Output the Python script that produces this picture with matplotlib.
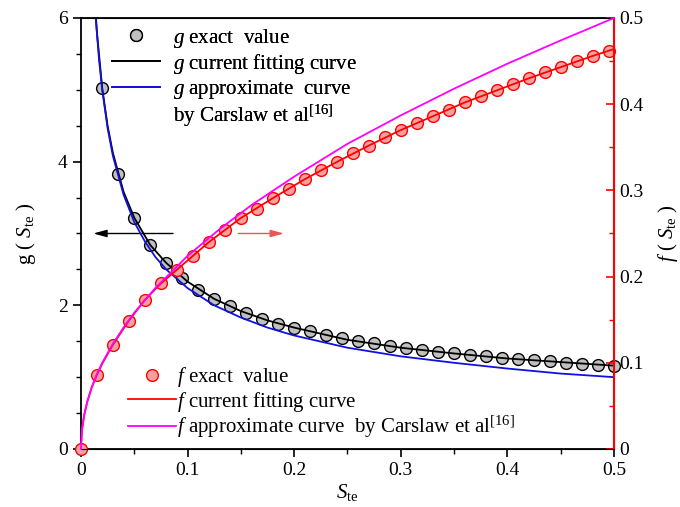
import numpy as np
import matplotlib.pyplot as plt
from matplotlib.lines import Line2D

plt.rcParams['font.family'] = ['Liberation Serif', 'DejaVu Serif']
plt.rcParams['mathtext.fontset'] = 'custom'
plt.rcParams['mathtext.rm'] = 'Liberation Serif'
plt.rcParams['mathtext.it'] = 'Liberation Serif:italic'

# g exact values (left axis)
s_g = [0.02, 0.035, 0.05, 0.065, 0.08, 0.095, 0.11, 0.125, 0.14, 0.155, 0.17,
       0.185, 0.2, 0.215, 0.23, 0.245, 0.26, 0.275, 0.29, 0.305, 0.32, 0.335,
       0.35, 0.365, 0.38, 0.395, 0.41, 0.425, 0.44, 0.455, 0.47, 0.485, 0.5]
g_exact = [5.02, 3.83, 3.22, 2.84, 2.59, 2.38, 2.22, 2.09, 1.99, 1.89, 1.81,
           1.74, 1.69, 1.64, 1.59, 1.54, 1.50, 1.47, 1.43, 1.40, 1.38, 1.35,
           1.33, 1.31, 1.29, 1.27, 1.25, 1.24, 1.22, 1.20, 1.19, 1.17, 1.16]

# g current fitting curve
s_gfit = [0.012, 0.015, 0.02, 0.025, 0.03, 0.04, 0.05, 0.065, 0.08, 0.1, 0.125,
          0.15, 0.175, 0.2, 0.25, 0.3, 0.35, 0.4, 0.45, 0.5]
g_fit = [6.5, 5.8, 5.02, 4.5, 4.12, 3.58, 3.22, 2.84, 2.59, 2.33, 2.09,
         1.92, 1.79, 1.69, 1.52, 1.41, 1.33, 1.26, 1.21, 1.16]

# g approximate curve by Carslaw et al
s_gc = [0.012, 0.014, 0.017, 0.02, 0.025, 0.03, 0.04, 0.05, 0.06, 0.07, 0.08,
        0.1, 0.125, 0.15, 0.175, 0.2, 0.25, 0.3, 0.35, 0.4, 0.45, 0.5]
g_carslaw = [6.45, 5.98, 5.42, 5.0, 4.47, 4.08, 3.54, 3.16, 2.89, 2.67, 2.50,
             2.24, 2.0, 1.83, 1.69, 1.58, 1.41, 1.29, 1.20, 1.12, 1.05, 1.0]

# f exact values (right axis)
s_f = [0.0, 0.015, 0.03, 0.045, 0.06, 0.075, 0.09, 0.105, 0.12, 0.135, 0.15,
       0.165, 0.18, 0.195, 0.21, 0.225, 0.24, 0.255, 0.27, 0.285, 0.3, 0.315,
       0.33, 0.345, 0.36, 0.375, 0.39, 0.405, 0.42, 0.435, 0.45, 0.465, 0.48, 0.495]
f_exact = [0.0, 0.086, 0.121, 0.149, 0.173, 0.192, 0.208, 0.224, 0.240, 0.254, 0.268,
           0.279, 0.291, 0.302, 0.313, 0.324, 0.333, 0.343, 0.352, 0.362, 0.370, 0.378,
           0.386, 0.393, 0.402, 0.409, 0.416, 0.423, 0.430, 0.437, 0.443, 0.450, 0.456, 0.462]

# f current fitting curve
s_ffit = [0.0, 0.001, 0.003, 0.006, 0.01, 0.015, 0.02, 0.03, 0.045, 0.06, 0.075,
          0.09, 0.105, 0.12, 0.15, 0.18, 0.21, 0.24, 0.27, 0.3, 0.33, 0.36, 0.39,
          0.42, 0.45, 0.48, 0.5]
f_fit = [0.0, 0.022, 0.039, 0.055, 0.071, 0.086, 0.099, 0.121, 0.149, 0.173, 0.192,
         0.208, 0.224, 0.240, 0.268, 0.291, 0.313, 0.333, 0.352, 0.370, 0.386, 0.402,
         0.416, 0.430, 0.443, 0.456, 0.464]

# f approximate curve by Carslaw et al
s_fc = [0.0, 0.001, 0.003, 0.006, 0.01, 0.015, 0.02, 0.03, 0.04, 0.05, 0.07, 0.1,
        0.13, 0.16, 0.2, 0.25, 0.3, 0.35, 0.4, 0.45, 0.5]
f_carslaw = [0.0, 0.022, 0.039, 0.055, 0.071, 0.087, 0.1, 0.122, 0.141, 0.158, 0.187,
             0.224, 0.255, 0.283, 0.316, 0.354, 0.387, 0.418, 0.447, 0.474, 0.5]

fig = plt.figure(figsize=(6.8, 5.07), dpi=100)
ax = fig.add_axes([0.119, 0.1144, 0.784, 0.8501])
ax2 = ax.twinx()

ax.plot(s_g, g_exact, 'o', ms=8.5, mfc='#c0c0c0', mec='black', mew=1.0, zorder=2, clip_on=False)
ax.plot(s_gfit, g_fit, color='black', lw=1.3, zorder=3)
ax.plot(s_gc, g_carslaw, color='#1010e0', lw=1.3, zorder=4)

ax2.plot(s_f, f_exact, 'o', ms=8.5, mfc='#f4a0a0', mec='red', mew=1.0, zorder=2, clip_on=False)
ax2.plot(s_ffit, f_fit, color='red', lw=1.3, zorder=3)
ax2.plot(s_fc, f_carslaw, color='#ff00ff', lw=1.3, zorder=4, clip_on=False)

ax.set_xlim(0, 0.5)
ax.set_ylim(0, 6)
ax2.set_ylim(0, 0.5)

ax.set_xticks([0, 0.1, 0.2, 0.3, 0.4, 0.5])
ax.set_xticklabels(['0', '0.1', '0.2', '0.3', '0.4', '0.5'])
ax.set_xticks(np.arange(0.05, 0.5, 0.1), minor=True)
ax.set_yticks([0, 2, 4, 6])
ax.set_yticks(np.arange(0.5, 6, 0.5), minor=True)
ax2.set_yticks([0, 0.1, 0.2, 0.3, 0.4, 0.5])
ax2.set_yticklabels(['0', '0.1', '0.2', '0.3', '0.4', '0.5'])
ax2.set_yticks(np.arange(0.05, 0.5, 0.1), minor=True)

ax.tick_params(axis='both', which='major', direction='out', length=6, width=1.2, labelsize=14)
ax.tick_params(axis='both', which='minor', direction='out', length=3.5, width=1.0)
ax.tick_params(axis='y', right=False)
ax2.tick_params(axis='y', which='major', direction='in', length=6, width=1.2,
                colors='red', labelcolor='black', labelsize=14)
ax2.tick_params(axis='y', which='minor', direction='in', length=3.5, width=1.0, colors='red')

for sp in ['left', 'bottom', 'top']:
    ax.spines[sp].set_linewidth(1.3)
ax2.spines['right'].set_color('red')
ax2.spines['right'].set_linewidth(1.5)
ax2.spines['left'].set_visible(False)

ax.set_xlabel(r'$S_{\rm te}$', fontsize=15, labelpad=2)
ax.set_ylabel(r'g ( $S_{\rm te}$ )', fontsize=15, labelpad=14)
ax2.set_ylabel(r'$f$ ( $S_{\rm te}$ )', fontsize=15, labelpad=9, rotation=90)

# arrows pointing to the relevant axes
ax.annotate('', xy=(0.009, 3.0), xytext=(0.089, 3.0),
            arrowprops=dict(arrowstyle='-|>,head_length=0.8,head_width=0.22',
                            color='black', lw=1.0))
ax.annotate('', xy=(0.193, 3.0), xytext=(0.145, 3.0),
            arrowprops=dict(arrowstyle='-|>,head_length=0.8,head_width=0.22',
                            color='#ee5555', lw=1.0))

g_handles = [Line2D([], [], ls='none', marker='o', ms=8.5, mfc='#c0c0c0', mec='black'),
             Line2D([], [], color='black', lw=1.3),
             Line2D([], [], color='#1010e0', lw=1.3),
             Line2D([], [], color='none')]
g_labels = [r'$g$ exact  value', r'$g$ current fitting curve',
            r'$g$ approximate  curve', r'by Carslaw et al$^{[16]}$']
leg1 = ax.legend(g_handles, g_labels, loc='upper left', bbox_to_anchor=(0.147, 0.972),
                 bbox_transform=fig.transFigure, frameon=False, fontsize=15,
                 handlelength=2.3, handletextpad=0.6, labelspacing=0.1, borderpad=0.1)
ax.add_artist(leg1)

f_handles = [Line2D([], [], ls='none', marker='o', ms=8.5, mfc='#f4a0a0', mec='red'),
             Line2D([], [], color='red', lw=1.3),
             Line2D([], [], color='#ff00ff', lw=1.3)]
f_labels = [r'$f$ exact  value', r'$f$ current fitting curve',
            r'$f$ approximate curve  by Carslaw et al$^{[16]}$']
ax2.legend(f_handles, f_labels, loc='upper left', bbox_to_anchor=(0.17, 0.304),
           bbox_transform=fig.transFigure, frameon=False, fontsize=15,
           handlelength=2.3, handletextpad=0.05, labelspacing=0.02, borderpad=0.1)

fig.savefig('out.png', dpi=100)
